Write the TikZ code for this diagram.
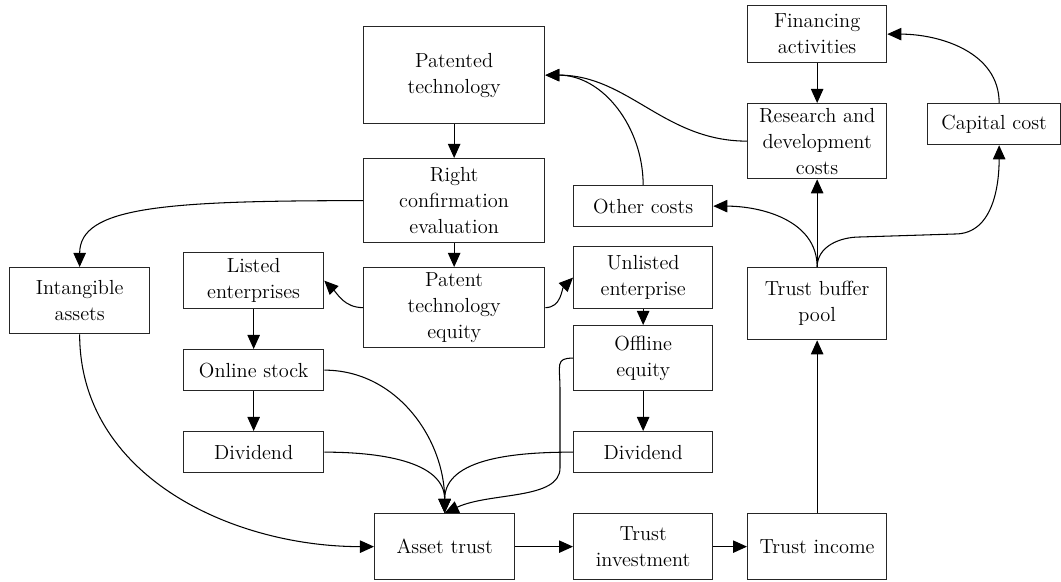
\documentclass[tikz,border=0pt]{standalone}
\usepackage{tikz}
\usetikzlibrary{arrows.meta}

\tikzset{
  box/.style={draw=black!85, rectangle, anchor=north west, align=center, inner sep=0pt,
    line width=0.9pt, font=\fontsize{14.5}{18.5}\selectfont},
  arr/.style={-{Triangle[length=0.35cm,width=0.31cm]}, line width=0.75pt}
}

\begin{document}
\begin{tikzpicture}[x=0.025cm,y=-0.025cm]
\useasboundingbox (0,0) rectangle (1061,582);

\node[box, minimum width=4.525cm, minimum height=2.425cm](pat) at (363,26) {Patented\\technology};
\node[box, minimum width=4.525cm, minimum height=2.1cm](rce) at (363,158) {Right\\confirmation\\evaluation};
\node[box, minimum width=4.525cm, minimum height=2cm](equ) at (363,267) {Patent\\technology\\equity};
\node[box, minimum width=3.5cm, minimum height=1.65cm](int) at (9,267) {Intangible\\assets};
\node[box, minimum width=3.5cm, minimum height=1.4cm](lst) at (183,252) {Listed\\enterprises};
\node[box, minimum width=3.5cm, minimum height=1.025cm](onl) at (183,349) {Online stock};
\node[box, minimum width=3.5cm, minimum height=1.025cm](divl) at (183,431) {Dividend};
\node[box, minimum width=3.5cm, minimum height=1.65cm](ast) at (374,513) {Asset trust};

\node[box, minimum width=3.475cm, minimum height=1.425cm](fin) at (747,5) {Financing\\activities};
\node[box, minimum width=3.475cm, minimum height=1.875cm](rnd) at (747,103) {Research and\\development\\costs};
\node[box, minimum width=3.325cm, minimum height=1.025cm](cap) at (927,103) {Capital cost};
\node[box, minimum width=3.475cm, minimum height=1.025cm](oth) at (573,185) {Other costs};
\node[box, minimum width=3.475cm, minimum height=1.55cm](unl) at (573,246) {Unlisted\\enterprise};
\node[box, minimum width=3.475cm, minimum height=1.8cm](tbp) at (747,267) {Trust buffer\\pool};
\node[box, minimum width=3.475cm, minimum height=1.625cm](off) at (573,325) {Offline\\equity};
\node[box, minimum width=3.475cm, minimum height=1.025cm](divr) at (573,431) {Dividend};
\node[box, minimum width=3.475cm, minimum height=1.65cm](tinv) at (573,513) {Trust\\investment};
\node[box, minimum width=3.475cm, minimum height=1.65cm](tinc) at (747,513) {Trust income};

% patent chain
\draw[arr](pat) to (rce);
\draw[arr](rce) to (equ);
\draw[arr](rce.west) .. controls +(-200,0) and +(0,-60) .. (int.north);
\draw[arr](equ.west) to[out=180,in=-45] (lst.east);
\draw[arr](equ.east) to[out=0,in=-135] (unl.west);
\draw[arr](lst) to (onl);
\draw[arr](onl) to (divl);
\draw[arr](unl) to (off);
\draw[arr](off) to (divr);

% into the asset trust
\draw[arr](int.south) to[out=-90,in=180] (ast.west);
\draw[arr](onl.east) to[out=0,in=90] (ast.north);
\draw[arr](divl.east) to[out=0,in=90] (ast.north);
\draw[arr](divr.west) to[out=180,in=90] (ast.north);
\draw[arr](off.west) .. controls (555,358) and (560,365) .. (560,390) -- (560,468)
  .. controls (560,500) and (490,492) .. (ast.north);

% trust flow
\draw[arr](ast) to (tinv);
\draw[arr](tinv) to (tinc);
\draw[arr](tinc) to (tbp);
\draw[arr](tbp) to (rnd);
\draw[arr](tbp.north) to[out=90,in=0] (oth.east);
\draw[arr](tbp.north) to[out=90,in=180] (860,237) -- (955,234) to[out=0,in=-90] ([xshift=0.125cm]cap.south);
\draw[arr]([xshift=0.125cm]cap.north) to[out=90,in=0] (fin.east);
\draw[arr](fin) to (rnd);
\draw[arr](rnd.west) to[out=180,in=0] (pat.east);
\draw[arr](oth.north) to[out=90,in=0] (pat.east);

\end{tikzpicture}
\end{document}
